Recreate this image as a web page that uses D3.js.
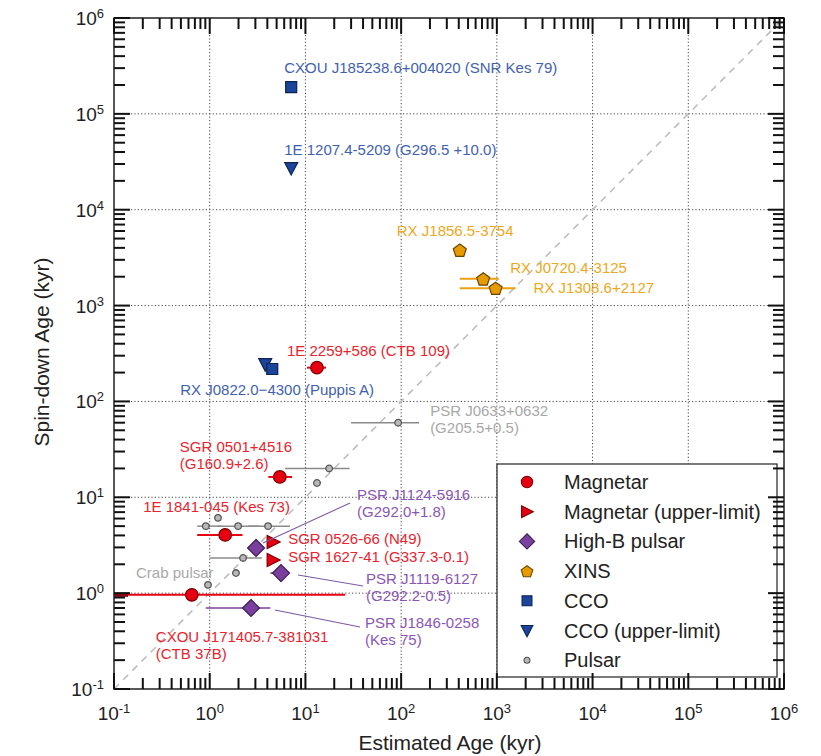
<!DOCTYPE html>
<html>
<head>
<meta charset="utf-8">
<script src="https://cdn.jsdelivr.net/npm/d3@7"></script>
<style>
  body { margin: 0; background: #fff; }
</style>
</head>
<body>
<svg id="chart" width="821" height="756" font-family="Liberation Sans, Arial, sans-serif"></svg>
<script>
// ---- data (ages in kyr) ----
// [name, estimated age, age low, age high, spin-down age]
const magnetars = [
  ["1E 2259+586", 13.2, 10.4, 16.4, 225],
  ["SGR 0501+4516", 5.4, 4.1, 7.25, 16.3],
  ["1E 1841-045", 1.45, 0.74, 2.2, 4.05],
  ["CXOU J171405.7-381031", 0.65, 0.01, 26, 0.96]
];
const magnetarsUL = [
  ["SGR 0526-66", 4.6, null, null, 3.42],
  ["SGR 1627-41", 4.6, null, null, 2.22]
];
const highB = [
  ["PSR J1124-5916", 3.05, null, null, 2.96],
  ["PSR J1119-6127", 5.56, 4.3, 6.6, 1.62],
  ["PSR J1846-0258", 2.7, 0.91, 4.3, 0.70]
];
const xins = [
  ["RX J1856.5-3754", 410, null, null, 3800],
  ["RX J0720.4-3125", 720, 410, 1050, 1900],
  ["RX J1308.6+2127", 970, 410, 1570, 1520]
];
const cco = [
  ["CXOU J185238.6+004020", 7.1, null, null, 1.9e5],
  ["RX J0822.0-4300", 4.5, null, null, 218]
];
const ccoUL = [
  ["1E 1207.4-5209", 7.1, null, null, 2.72e4],
  ["RX J0822.0-4300 UL", 3.8, null, null, 245]
];
const pulsars = [
  ["PSR J0633+0632", 93, 30, 154, 60],
  ["p1", 17.7, 6.1, 29, 20],
  ["p2", 13.2, null, null, 14.1],
  ["p3", 1.22, null, null, 6.1],
  ["p4", 0.91, 0.74, 1.3, 5.0],
  ["p5", 1.98, 1.2, 3.3, 5.0],
  ["p6", 4.07, 2.5, 6.9, 5.0],
  ["p7", 2.23, 1.0, 3.5, 2.33],
  ["p8", 1.88, null, null, 1.62],
  ["Crab pulsar", 0.96, null, null, 1.22]
];
const decades = [-1, 0, 1, 2, 3, 4, 5, 6];
const minorSteps = [2, 3, 4, 5, 6, 7, 8, 9];
const legendLabels = ["Magnetar", "Magnetar (upper-limit)", "High-B pulsar", "XINS", "CCO", "CCO (upper-limit)", "Pulsar"];

// ---- styles per class ----
const classes = [
  { key: "mag", rows: magnetars, shape: "circle", fill: "#e60012", stroke: "#7a0000", bar: "#e60012", text: "#e8242e", bw: 2 },
  { key: "magUL", rows: magnetarsUL, shape: "tright", fill: "#e60012", stroke: "#7a0000", bar: "#e60012", text: "#e8242e", bw: 2 },
  { key: "hb", rows: highB, shape: "diamond", fill: "#7b3f9e", stroke: "#3a1d52", bar: "#7b3f9e", text: "#8a56b5", bw: 1.6 },
  { key: "xins", rows: xins, shape: "pentagon", fill: "#e89b00", stroke: "#6a4500", bar: "#eba010", text: "#eda820", bw: 2 },
  { key: "cco", rows: cco, shape: "square", fill: "#1c4599", stroke: "#0d2256", bar: "#1c4599", text: "#3f62b0", bw: 2 },
  { key: "ccoUL", rows: ccoUL, shape: "tdown", fill: "#1c4599", stroke: "#0d2256", bar: "#1c4599", text: "#3f62b0", bw: 2 },
  { key: "psr", rows: pulsars, shape: "small", fill: "#b8b8b8", stroke: "#555", bar: "#8a8a8a", text: "#a8a8a8", bw: 1.5 }
];

// text annotations: lines, target point, offset of first baseline, optional leader line
const notes = [
  { t: ["CXOU J185238.6+004020 (SNR Kes 79)"], p: "CXOU J185238.6+004020", c: "cco", dx: -7, dy: -14 },
  { t: ["1E 1207.4-5209 (G296.5 +10.0)"], p: "1E 1207.4-5209", c: "cco", dx: -7, dy: -13 },
  { t: ["RX J0822.0\u22124300 (Puppis A)"], p: "RX J0822.0-4300", c: "cco", dx: -92, dy: 26 },
  { t: ["1E 2259+586 (CTB 109)"], p: "1E 2259+586", c: "mag", dx: -30, dy: -12 },
  { t: ["RX J1856.5-3754"], p: "RX J1856.5-3754", c: "xins", dx: -63, dy: -14 },
  { t: ["RX J0720.4-3125"], p: "RX J0720.4-3125", c: "xins", dx: 27, dy: -6 },
  { t: ["RX J1308.6+2127"], p: "RX J1308.6+2127", c: "xins", dx: 38, dy: 5 },
  { t: ["PSR J0633+0632", "(G205.5+0.5)"], p: "PSR J0633+0632", c: "psr", dx: 32, dy: -7 },
  { t: ["SGR 0501+4516", "(G160.9+2.6)"], p: "SGR 0501+4516", c: "mag", dx: -100, dy: -25 },
  { t: ["1E 1841-045 (Kes 73)"], p: "1E 1841-045", c: "mag", dx: -82, dy: -23 },
  { t: ["PSR J1124-5916", "(G292.0+1.8)"], p: "PSR J1124-5916", c: "hb", dx: 101, dy: -48, lead: [7, -5, 94, -45] },
  { t: ["SGR 0526-66 (N49)"], p: "SGR 0526-66", c: "magUL", dx: 15, dy: 2 },
  { t: ["SGR 1627-41 (G337.3-0.1)"], p: "SGR 1627-41", c: "magUL", dx: 15, dy: 2 },
  { t: ["Crab pulsar"], p: "Crab pulsar", c: "psr", dx: -72, dy: -7 },
  { t: ["PSR J1119-6127", "(G292.2-0.5)"], p: "PSR J1119-6127", c: "hb", dx: 85, dy: 11, lead: [17, 2, 82, 13] },
  { t: ["PSR J1846-0258", "(Kes 75)"], p: "PSR J1846-0258", c: "hb", dx: 114, dy: 20, lead: [24, 2, 109, 19] },
  { t: ["CXOU J171405.7-381031", "(CTB 37B)"], p: "CXOU J171405.7-381031", c: "mag", dx: -36, dy: 47 }
];

// ---- layout ----
const svg = d3.select("#chart");
const pL = 114, pR = 784, pT = 18, pB = 689;

const x = d3.scaleLog().domain([0.1, 1e6]).range([pL, pR]);
const y = d3.scaleLog().domain([0.1, 1e6]).range([pB, pT]);

svg.append("defs").append("clipPath").attr("id", "plotclip")
  .append("rect").attr("x", pL).attr("y", pT).attr("width", pR - pL).attr("height", pB - pT);

// shapes
function shapePath(shape) {
  if (shape === "circle") return d3.symbol(d3.symbolCircle, Math.PI * 6.3 * 6.3)();
  if (shape === "small") return d3.symbol(d3.symbolCircle, Math.PI * 3.3 * 3.3)();
  if (shape === "square") return "M-5.5,-5.5H5.5V5.5H-5.5Z";
  if (shape === "diamond") return "M0,-8.5L8.5,0L0,8.5L-8.5,0Z";
  if (shape === "tright") return "M7,0L-6,-6.5L-6,6.5Z";
  if (shape === "tdown") return "M0,7L-6.5,-5.5L6.5,-5.5Z";
  if (shape === "pentagon") {
    const r = 6.8;
    return d3.range(5).map((i, k) => {
      const a = -Math.PI / 2 + i * 2 * Math.PI / 5;
      return (k ? "L" : "M") + (r * Math.cos(a)).toFixed(2) + "," + (r * Math.sin(a) + 0.8).toFixed(2);
    }).join("") + "Z";
  }
}

// grid
const grid = svg.append("g").attr("stroke", "#333").attr("stroke-width", 0.9).attr("stroke-dasharray", "1.2,2.2");
decades.slice(1, -1).forEach(d => {
  grid.append("line").attr("x1", x(10 ** d)).attr("x2", x(10 ** d)).attr("y1", pT).attr("y2", pB);
  grid.append("line").attr("y1", y(10 ** d)).attr("y2", y(10 ** d)).attr("x1", pL).attr("x2", pR);
});

// y = x reference
svg.append("line")
  .attr("x1", x(0.1)).attr("y1", y(0.1)).attr("x2", x(1e6)).attr("y2", y(1e6))
  .attr("stroke", "#bdbdbd").attr("stroke-width", 1.6).attr("stroke-dasharray", "7,6");

const plot = svg.append("g").attr("clip-path", "url(#plotclip)");
const byName = {};
classes.forEach(c => c.rows.forEach(r => { byName[r[0]] = r; }));

// error bars
classes.forEach(c => {
  plot.append("g").selectAll("line")
    .data(c.rows.filter(r => r[2] != null))
    .join("line")
      .attr("x1", r => x(r[2])).attr("x2", r => x(r[3]))
      .attr("y1", r => y(r[4])).attr("y2", r => y(r[4]))
      .attr("stroke", c.bar).attr("stroke-width", c.bw);
});
// the CTB 37B bar runs off the left edge; darker stub there as in the original
svg.append("rect")
  .attr("x", pL).attr("width", 14)
  .attr("y", y(magnetars[3][4]) - 2).attr("height", 4)
  .attr("fill", "#8a0010");

// leader lines
notes.filter(n => n.lead).forEach(n => {
  const r = byName[n.p];
  svg.append("line")
    .attr("x1", x(r[1]) + n.lead[0]).attr("y1", y(r[4]) + n.lead[1])
    .attr("x2", x(r[1]) + n.lead[2]).attr("y2", y(r[4]) + n.lead[3])
    .attr("stroke", "#7c5ca6").attr("stroke-width", 1.1);
});

// markers (pulsars first so bigger symbols sit on top)
[...classes].reverse().forEach(c => {
  plot.append("g").selectAll("path")
    .data(c.rows)
    .join("path")
      .attr("transform", r => `translate(${x(r[1])},${y(r[4])})`)
      .attr("d", shapePath(c.shape))
      .attr("fill", c.fill).attr("stroke", c.stroke)
      .attr("stroke-width", c.shape === "small" ? 1.3 : 1.2);
});

// annotations
const colorOf = {};
classes.forEach(c => { colorOf[c.key] = c.text; });
notes.forEach(n => {
  const r = byName[n.p];
  const t = svg.append("text")
    .attr("x", x(r[1]) + n.dx).attr("y", y(r[4]) + n.dy)
    .attr("fill", colorOf[n.c]).attr("font-size", 15);
  n.t.forEach((line, i) => {
    t.append("tspan").attr("x", x(r[1]) + n.dx).attr("dy", i ? 17 : 0).text(line);
  });
});

// legend (sits just above the bottom ticks)
const lg = svg.append("g");
lg.append("rect").attr("x", 497).attr("y", 464).attr("width", 280).attr("height", 213)
  .attr("fill", "#fff").attr("stroke", "#222").attr("stroke-width", 1.2);
classes.forEach((c, i) => {
  const cy = 482 + i * 29.7;
  lg.append("path").attr("transform", `translate(527,${cy}) scale(0.9)`)
    .attr("d", shapePath(c.shape)).attr("fill", c.fill).attr("stroke", c.stroke).attr("stroke-width", 1.2);
  lg.append("text").attr("x", 564).attr("y", cy + 7).attr("fill", "#222")
    .attr("font-size", 20).text(legendLabels[i]);
});

// frame
svg.append("rect").attr("x", pL).attr("y", pT).attr("width", pR - pL).attr("height", pB - pT)
  .attr("fill", "none").attr("stroke", "#222").attr("stroke-width", 1.5);

// inward ticks on all four sides: one line per tick, appended one by one
const tickG = svg.append("g").attr("id", "ticks");
function addTick(x1, y1, x2, y2) {
  tickG.append("line")
    .attr("x1", x1).attr("y1", y1).attr("x2", x2).attr("y2", y2)
    .attr("stroke", "#111").attr("stroke-width", 2);
}
decades.forEach(d => {
  const v = 10 ** d;
  addTick(x(v), pB, x(v), pB - 16);
  addTick(x(v), pT, x(v), pT + 16);
  addTick(pL, y(v), pL + 16, y(v));
  addTick(pR, y(v), pR - 16, y(v));
  if (d < 6) {
    minorSteps.forEach(k => {
      const m = k * v;
      addTick(x(m), pB, x(m), pB - 11);
      addTick(x(m), pT, x(m), pT + 11);
      addTick(pL, y(m), pL + 11, y(m));
      addTick(pR, y(m), pR - 11, y(m));
    });
  }
});

// tick labels with superscript exponents
function powLabel(sel, d) {
  sel.append("tspan").text("10");
  sel.append("tspan").attr("dy", -7).attr("font-size", 13).text(d < 0 ? "-" + (-d) : d);
}
decades.forEach(d => {
  svg.append("text").attr("x", x(10 ** d)).attr("y", 720)
    .attr("text-anchor", "middle").attr("fill", "#222").attr("font-size", 19)
    .call(powLabel, d);
  svg.append("text").attr("x", 104).attr("y", y(10 ** d) + 7)
    .attr("text-anchor", "end").attr("fill", "#222").attr("font-size", 19)
    .call(powLabel, d);
});

// axis titles
svg.append("text").attr("x", 450).attr("y", 750).attr("text-anchor", "middle")
  .attr("fill", "#222").attr("font-size", 21).text("Estimated Age (kyr)");
svg.append("text").attr("transform", "translate(49,352) rotate(-90)").attr("text-anchor", "middle")
  .attr("fill", "#222").attr("font-size", 21).text("Spin-down Age (kyr)");
</script>
</body>
</html>
